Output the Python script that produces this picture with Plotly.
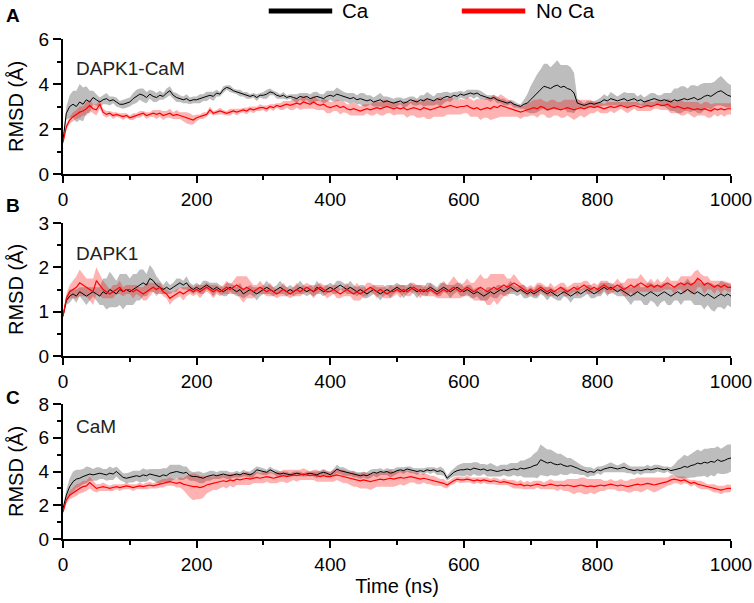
import plotly.graph_objects as go
import numpy as np

STEP = 5  # ns between frames

# ---- panel A: DAPK1-CaM ----
a_ca = [1.5, 2.7, 3.0, 3.1, 3.0, 3.2, 3.1, 3.3, 3.2, 3.4, 3.3, 3.2, 3.3, 3.35, 3.25, 3.3, 3.2, 3.1, 3.1, 3.15,
        3.2, 3.35, 3.45, 3.55, 3.5, 3.4, 3.55, 3.45, 3.4, 3.5, 3.45, 3.6, 3.7, 3.5, 3.4, 3.35, 3.3, 3.35, 3.25, 3.3,
        3.3, 3.35, 3.4, 3.45, 3.5, 3.45, 3.6, 3.55, 3.75, 3.85, 3.8, 3.7, 3.65, 3.6, 3.55, 3.5, 3.45, 3.5, 3.4, 3.5,
        3.5, 3.55, 3.65, 3.6, 3.5, 3.45, 3.5, 3.4, 3.45, 3.4, 3.35, 3.45, 3.4, 3.45, 3.35, 3.4, 3.45, 3.4, 3.35, 3.45,
        3.5, 3.45, 3.55, 3.5, 3.45, 3.4, 3.35, 3.4, 3.3, 3.35, 3.3, 3.25, 3.3, 3.2, 3.25, 3.3, 3.2, 3.25, 3.2, 3.15,
        3.2, 3.25, 3.15, 3.2, 3.3, 3.25, 3.2, 3.3, 3.25, 3.35, 3.3, 3.25, 3.35, 3.3, 3.4, 3.45, 3.4, 3.5, 3.45, 3.55,
        3.5, 3.55, 3.6, 3.55, 3.6, 3.5, 3.45, 3.4, 3.35, 3.4, 3.3, 3.25, 3.2, 3.15, 3.2, 3.1, 3.05, 3.0, 3.1, 3.15,
        3.3, 3.45, 3.6, 3.75, 3.9, 3.85, 3.8, 3.9, 3.95, 3.85, 3.9, 3.8, 3.75, 3.6, 3.15, 3.1, 3.05, 3.1, 3.15, 3.1,
        3.15, 3.2, 3.3, 3.25, 3.35, 3.3, 3.25, 3.3, 3.35, 3.25, 3.3, 3.35, 3.25, 3.3, 3.2, 3.25, 3.3, 3.35, 3.3, 3.25,
        3.3, 3.25, 3.2, 3.3, 3.25, 3.3, 3.35, 3.3, 3.35, 3.4, 3.3, 3.35, 3.45, 3.5, 3.45, 3.55, 3.65, 3.7, 3.6, 3.5,
        3.45]
a_ca_sd = [0.1, 0.3, 0.5, 0.6, 0.7, 0.8, 0.75, 0.6, 0.5, 0.3, 0.25, 0.2, 0.2, 0.25, 0.2, 0.15, 0.2, 0.15, 0.2, 0.2,
           0.2, 0.25, 0.3, 0.25, 0.3, 0.25, 0.2, 0.25, 0.2, 0.2, 0.15, 0.2, 0.2, 0.15, 0.2, 0.15, 0.15, 0.2, 0.15, 0.15,
           0.15, 0.2, 0.15, 0.2, 0.15, 0.2, 0.15, 0.1, 0.15, 0.1, 0.15, 0.1, 0.1, 0.15, 0.1, 0.15, 0.1, 0.1, 0.15, 0.1,
           0.15, 0.2, 0.15, 0.1, 0.15, 0.1, 0.15, 0.1, 0.1, 0.15, 0.2, 0.15, 0.2, 0.15, 0.2, 0.25, 0.2, 0.15, 0.2, 0.25,
           0.2, 0.25, 0.3, 0.25, 0.2, 0.2, 0.25, 0.2, 0.2, 0.25, 0.3, 0.25, 0.2, 0.2, 0.25, 0.3, 0.25, 0.2, 0.2, 0.2,
           0.2, 0.15, 0.2, 0.2, 0.15, 0.2, 0.15, 0.2, 0.25, 0.3, 0.25, 0.2, 0.25, 0.3, 0.25, 0.2, 0.2, 0.15, 0.2, 0.15,
           0.15, 0.2, 0.15, 0.2, 0.15, 0.2, 0.15, 0.1, 0.15, 0.1, 0.15, 0.1, 0.15, 0.1, 0.1, 0.15, 0.1, 0.1, 0.2, 0.4,
           0.6, 0.75, 0.85, 0.9, 1.0, 1.05, 0.95, 1.0, 1.1, 1.0, 0.95, 1.05, 1.0, 0.9, 0.2, 0.15, 0.1, 0.15, 0.1, 0.15,
           0.15, 0.2, 0.25, 0.2, 0.3, 0.25, 0.2, 0.25, 0.3, 0.35, 0.3, 0.25, 0.2, 0.25, 0.2, 0.25, 0.3, 0.25, 0.2, 0.25,
           0.3, 0.35, 0.4, 0.5, 0.55, 0.6, 0.55, 0.5, 0.6, 0.55, 0.6, 0.65, 0.6, 0.55, 0.6, 0.55, 0.6, 0.65, 0.6, 0.55,
           0.5]
a_noca = [1.4, 2.1, 2.4, 2.55, 2.65, 2.75, 2.8, 2.9, 3.05, 2.9, 2.85, 3.1, 2.75, 2.65, 2.7, 2.6, 2.65, 2.6, 2.55, 2.6,
          2.5, 2.55, 2.6, 2.65, 2.7, 2.6, 2.65, 2.7, 2.65, 2.7, 2.6, 2.65, 2.7, 2.6, 2.65, 2.6, 2.55, 2.5, 2.45, 2.4,
          2.5, 2.55, 2.6, 2.65, 2.85, 2.7, 2.75, 2.8, 2.75, 2.7, 2.75, 2.8, 2.75, 2.8, 2.85, 2.8, 2.9, 2.85, 2.9, 2.95,
          2.95, 2.9, 3.0, 2.95, 3.05, 3.0, 3.05, 3.1, 3.05, 3.1, 3.15, 3.1, 3.2, 3.15, 3.1, 3.2, 3.1, 3.05, 3.1, 3.0,
          2.95, 3.0, 3.05, 2.95, 3.0, 2.9, 2.85, 2.9, 2.85, 2.8, 2.85, 2.9, 2.85, 2.9, 2.95, 2.9, 2.95, 3.0, 2.95, 2.9,
          2.95, 2.9, 2.95, 2.85, 2.9, 2.95, 2.9, 2.85, 2.95, 2.9, 2.85, 2.9, 2.95, 3.0, 2.95, 3.0, 3.05, 3.0, 2.95, 3.0,
          3.0, 3.05, 2.95, 2.9, 2.95, 2.85, 2.9, 2.95, 2.9, 3.0, 2.95, 3.05, 3.0, 2.95, 2.9, 2.85, 2.8, 2.75, 2.8, 2.85,
          2.9, 2.95, 2.9, 3.0, 2.95, 2.85, 2.9, 2.95, 2.9, 2.85, 2.9, 2.95, 2.9, 2.85, 2.9, 2.95, 2.9, 2.95, 3.0, 2.95,
          3.0, 2.95, 2.9, 2.95, 3.0, 2.95, 3.0, 3.05, 3.0, 2.95, 3.0, 3.05, 3.0, 2.95, 3.0, 3.05, 3.0, 3.05, 3.1, 3.05,
          3.05, 3.1, 3.0, 2.95, 3.0, 2.95, 2.9, 2.95, 2.9, 2.85, 2.9, 2.85, 2.9, 2.85, 2.8, 2.9, 2.85, 2.9, 2.85, 2.9,
          2.9]
a_noca_sd = [0.1, 0.15, 0.15, 0.2, 0.2, 0.25, 0.2, 0.3, 0.25, 0.2, 0.25, 0.2, 0.15, 0.15, 0.1, 0.15, 0.1, 0.1, 0.15, 0.1,
             0.1, 0.15, 0.1, 0.15, 0.1, 0.15, 0.1, 0.15, 0.2, 0.15, 0.2, 0.15, 0.2, 0.15, 0.2, 0.15, 0.2, 0.25, 0.25, 0.2,
             0.15, 0.1, 0.15, 0.1, 0.15, 0.1, 0.1, 0.15, 0.1, 0.1, 0.15, 0.1, 0.15, 0.1, 0.1, 0.15, 0.1, 0.15, 0.1, 0.15,
             0.1, 0.15, 0.1, 0.15, 0.1, 0.15, 0.2, 0.15, 0.2, 0.25, 0.2, 0.25, 0.3, 0.25, 0.2, 0.3, 0.25, 0.2, 0.25, 0.3,
             0.25, 0.2, 0.25, 0.3, 0.25, 0.2, 0.25, 0.3, 0.25, 0.2, 0.25, 0.2, 0.25, 0.3, 0.25, 0.3, 0.35, 0.3, 0.25, 0.3,
             0.3, 0.25, 0.3, 0.35, 0.3, 0.35, 0.4, 0.35, 0.4, 0.45, 0.4, 0.35, 0.4, 0.45, 0.4, 0.35, 0.4, 0.35, 0.3, 0.35,
             0.3, 0.35, 0.4, 0.35, 0.4, 0.45, 0.4, 0.45, 0.5, 0.55, 0.45, 0.5, 0.45, 0.4, 0.35, 0.3, 0.25, 0.3, 0.25, 0.3,
             0.3, 0.35, 0.4, 0.35, 0.3, 0.35, 0.4, 0.35, 0.3, 0.35, 0.4, 0.35, 0.4, 0.45, 0.4, 0.35, 0.4, 0.35, 0.3, 0.25,
             0.2, 0.25, 0.2, 0.25, 0.2, 0.25, 0.2, 0.15, 0.2, 0.25, 0.2, 0.15, 0.2, 0.15, 0.2, 0.25, 0.2, 0.15, 0.2, 0.2,
             0.2, 0.25, 0.3, 0.25, 0.3, 0.35, 0.3, 0.25, 0.3, 0.35, 0.3, 0.25, 0.3, 0.35, 0.3, 0.25, 0.3, 0.25, 0.3, 0.25,
             0.25]

# ---- panel B: DAPK1 ----
b_ca = [0.9, 1.25, 1.35, 1.4, 1.35, 1.45, 1.4, 1.35, 1.4, 1.45, 1.4, 1.35, 1.45, 1.4, 1.5, 1.45, 1.4, 1.5, 1.45, 1.5,
        1.45, 1.5, 1.55, 1.6, 1.65, 1.6, 1.75, 1.7, 1.6, 1.55, 1.5, 1.55, 1.5, 1.55, 1.6, 1.65, 1.6, 1.65, 1.55, 1.5,
        1.55, 1.5, 1.55, 1.6, 1.55, 1.5, 1.55, 1.5, 1.45, 1.5, 1.55, 1.5, 1.45, 1.5, 1.4, 1.45, 1.5, 1.45, 1.4, 1.45,
        1.5, 1.55, 1.5, 1.45, 1.5, 1.55, 1.5, 1.45, 1.5, 1.45, 1.5, 1.55, 1.5, 1.45, 1.5, 1.45, 1.55, 1.5, 1.45, 1.5,
        1.55, 1.5, 1.55, 1.6, 1.55, 1.5, 1.55, 1.5, 1.45, 1.5, 1.45, 1.4, 1.45, 1.5, 1.45, 1.4, 1.45, 1.5, 1.45, 1.5,
        1.55, 1.5, 1.45, 1.5, 1.55, 1.5, 1.45, 1.5, 1.45, 1.5, 1.55, 1.5, 1.45, 1.5, 1.55, 1.5, 1.45, 1.5, 1.55, 1.5,
        1.45, 1.5, 1.45, 1.4, 1.45, 1.4, 1.35, 1.4, 1.45, 1.4, 1.45, 1.5, 1.45, 1.5, 1.55, 1.5, 1.45, 1.5, 1.45, 1.4,
        1.45, 1.4, 1.45, 1.5, 1.45, 1.4, 1.45, 1.4, 1.35, 1.4, 1.45, 1.4, 1.35, 1.4, 1.45, 1.4, 1.45, 1.5, 1.45, 1.4,
        1.45, 1.5, 1.55, 1.5, 1.55, 1.5, 1.45, 1.5, 1.45, 1.4, 1.35, 1.4, 1.45, 1.4, 1.35, 1.4, 1.45, 1.4, 1.35, 1.4,
        1.45, 1.4, 1.35, 1.4, 1.45, 1.4, 1.45, 1.5, 1.45, 1.4, 1.45, 1.4, 1.35, 1.4, 1.35, 1.3, 1.35, 1.4, 1.35, 1.4,
        1.35]
b_ca_sd = [0.05, 0.1, 0.15, 0.1, 0.15, 0.1, 0.15, 0.2, 0.15, 0.1, 0.15, 0.2, 0.3, 0.35, 0.4, 0.35, 0.3, 0.35, 0.4, 0.35,
           0.3, 0.35, 0.3, 0.35, 0.3, 0.25, 0.3, 0.25, 0.2, 0.15, 0.1, 0.15, 0.1, 0.1, 0.15, 0.1, 0.1, 0.15, 0.1, 0.1,
           0.1, 0.1, 0.15, 0.1, 0.1, 0.15, 0.1, 0.1, 0.1, 0.15, 0.1, 0.1, 0.1, 0.15, 0.1, 0.1, 0.1, 0.1, 0.15, 0.1,
           0.1, 0.15, 0.1, 0.1, 0.1, 0.15, 0.1, 0.1, 0.1, 0.1, 0.1, 0.15, 0.1, 0.1, 0.1, 0.1, 0.15, 0.1, 0.1, 0.1,
           0.1, 0.1, 0.15, 0.1, 0.1, 0.1, 0.15, 0.1, 0.1, 0.1, 0.15, 0.1, 0.1, 0.1, 0.1, 0.15, 0.1, 0.1, 0.15, 0.1,
           0.1, 0.1, 0.15, 0.1, 0.1, 0.1, 0.15, 0.1, 0.1, 0.15, 0.1, 0.1, 0.1, 0.15, 0.1, 0.1, 0.15, 0.1, 0.1, 0.15,
           0.1, 0.1, 0.15, 0.1, 0.1, 0.15, 0.1, 0.15, 0.1, 0.1, 0.15, 0.1, 0.1, 0.1, 0.15, 0.1, 0.1, 0.1, 0.15, 0.1,
           0.1, 0.1, 0.15, 0.1, 0.1, 0.15, 0.1, 0.1, 0.1, 0.15, 0.1, 0.1, 0.15, 0.1, 0.15, 0.1, 0.1, 0.1, 0.15, 0.1,
           0.1, 0.15, 0.1, 0.15, 0.1, 0.1, 0.1, 0.15, 0.1, 0.15, 0.2, 0.15, 0.2, 0.15, 0.2, 0.25, 0.2, 0.2, 0.25, 0.2,
           0.2, 0.25, 0.2, 0.15, 0.2, 0.25, 0.2, 0.25, 0.2, 0.25, 0.3, 0.25, 0.3, 0.25, 0.3, 0.3, 0.25, 0.3, 0.3, 0.25,
           0.25]
b_noca = [0.9, 1.3, 1.45, 1.5, 1.55, 1.65, 1.6, 1.55, 1.5, 1.45, 1.7, 1.6, 1.5, 1.45, 1.4, 1.45, 1.5, 1.55, 1.45, 1.5,
          1.5, 1.45, 1.5, 1.45, 1.4, 1.45, 1.5, 1.55, 1.5, 1.55, 1.45, 1.4, 1.3, 1.35, 1.4, 1.45, 1.4, 1.45, 1.5, 1.45,
          1.5, 1.45, 1.5, 1.55, 1.5, 1.45, 1.5, 1.45, 1.5, 1.55, 1.5, 1.55, 1.6, 1.55, 1.5, 1.55, 1.5, 1.45, 1.5, 1.55,
          1.5, 1.45, 1.5, 1.45, 1.4, 1.45, 1.5, 1.45, 1.4, 1.45, 1.5, 1.45, 1.5, 1.55, 1.5, 1.45, 1.5, 1.55, 1.5, 1.45,
          1.45, 1.5, 1.45, 1.4, 1.45, 1.5, 1.45, 1.4, 1.45, 1.4, 1.45, 1.5, 1.55, 1.5, 1.45, 1.5, 1.45, 1.4, 1.45, 1.45,
          1.5, 1.45, 1.5, 1.45, 1.5, 1.55, 1.5, 1.45, 1.5, 1.45, 1.5, 1.45, 1.4, 1.45, 1.5, 1.45, 1.5, 1.55, 1.5, 1.45,
          1.5, 1.55, 1.5, 1.45, 1.5, 1.55, 1.5, 1.45, 1.5, 1.55, 1.5, 1.55, 1.6, 1.55, 1.6, 1.65, 1.6, 1.55, 1.5, 1.45,
          1.5, 1.45, 1.5, 1.55, 1.5, 1.45, 1.5, 1.45, 1.5, 1.55, 1.5, 1.45, 1.5, 1.55, 1.5, 1.55, 1.6, 1.55, 1.5, 1.55,
          1.5, 1.55, 1.6, 1.55, 1.5, 1.55, 1.6, 1.55, 1.5, 1.55, 1.6, 1.55, 1.6, 1.65, 1.6, 1.55, 1.6, 1.55, 1.6, 1.55,
          1.6, 1.65, 1.6, 1.55, 1.6, 1.65, 1.6, 1.65, 1.6, 1.65, 1.75, 1.7, 1.6, 1.65, 1.6, 1.55, 1.6, 1.55, 1.6, 1.55,
          1.55]
b_noca_sd = [0.05, 0.1, 0.15, 0.2, 0.25, 0.3, 0.25, 0.2, 0.25, 0.3, 0.3, 0.25, 0.2, 0.15, 0.1, 0.15, 0.1, 0.15, 0.1, 0.1,
             0.1, 0.15, 0.1, 0.1, 0.15, 0.2, 0.15, 0.1, 0.15, 0.1, 0.1, 0.1, 0.15, 0.1, 0.1, 0.1, 0.15, 0.1, 0.1, 0.1,
             0.1, 0.15, 0.1, 0.1, 0.1, 0.15, 0.1, 0.1, 0.1, 0.15, 0.1, 0.15, 0.2, 0.25, 0.3, 0.25, 0.2, 0.15, 0.1, 0.15,
             0.1, 0.1, 0.15, 0.1, 0.1, 0.1, 0.15, 0.1, 0.1, 0.1, 0.15, 0.1, 0.1, 0.1, 0.1, 0.15, 0.1, 0.1, 0.1, 0.15,
             0.1, 0.1, 0.15, 0.1, 0.1, 0.15, 0.1, 0.15, 0.2, 0.15, 0.1, 0.15, 0.1, 0.1, 0.15, 0.1, 0.15, 0.1, 0.15, 0.1,
             0.1, 0.15, 0.1, 0.1, 0.15, 0.1, 0.1, 0.15, 0.1, 0.1, 0.15, 0.1, 0.1, 0.15, 0.2, 0.15, 0.2, 0.25, 0.2, 0.15,
             0.15, 0.2, 0.15, 0.2, 0.25, 0.3, 0.25, 0.3, 0.35, 0.3, 0.35, 0.3, 0.25, 0.2, 0.15, 0.2, 0.15, 0.1, 0.1, 0.1,
             0.1, 0.1, 0.15, 0.1, 0.1, 0.1, 0.15, 0.1, 0.1, 0.1, 0.15, 0.1, 0.1, 0.1, 0.15, 0.1, 0.1, 0.15, 0.1, 0.1,
             0.1, 0.15, 0.1, 0.15, 0.1, 0.1, 0.15, 0.1, 0.15, 0.2, 0.15, 0.2, 0.15, 0.2, 0.15, 0.1, 0.15, 0.1, 0.15, 0.1,
             0.1, 0.15, 0.1, 0.15, 0.1, 0.15, 0.2, 0.15, 0.2, 0.25, 0.2, 0.15, 0.2, 0.15, 0.1, 0.15, 0.1, 0.15, 0.1, 0.1,
             0.1]

# ---- panel C: CaM ----
c_ca = [1.8, 2.6, 3.1, 3.4, 3.55, 3.6, 3.7, 3.8, 3.85, 3.8, 3.85, 3.9, 3.85, 3.8, 3.9, 3.85, 4.0, 3.8, 3.65, 3.6,
        3.65, 3.7, 3.75, 3.7, 3.8, 3.75, 3.85, 3.8, 3.75, 3.7, 3.8, 3.75, 3.9, 3.95, 4.0, 3.95, 3.9, 3.95, 3.75, 3.7,
        3.7, 3.65, 3.6, 3.7, 3.75, 3.8, 3.75, 3.8, 3.85, 3.8, 3.75, 3.8, 3.85, 3.8, 3.9, 3.85, 3.8, 3.9, 4.1, 4.05,
        4.0, 3.95, 4.1, 4.0, 3.9, 3.85, 3.9, 3.85, 3.8, 3.85, 3.9, 3.85, 3.8, 3.85, 3.9, 3.85, 3.8, 3.9, 3.95, 3.9,
        3.8, 3.95, 4.15, 4.05, 4.0, 3.95, 3.9, 3.85, 3.8, 3.75, 3.8, 3.75, 3.85, 3.95, 3.9, 4.0, 3.95, 4.0, 3.9, 3.95,
        4.05, 4.1, 4.05, 4.15, 4.1, 4.05, 4.0, 4.05, 4.0, 4.1, 4.05, 4.1, 4.0, 4.05, 3.95, 3.6, 3.8, 3.95, 4.05, 4.1,
        4.1, 4.15, 4.1, 4.2, 4.15, 4.1, 4.15, 4.05, 4.1, 4.05, 4.0, 4.05, 4.1, 4.05, 4.1, 4.15, 4.1, 4.2, 4.15, 4.2,
        4.25, 4.35, 4.4, 4.7, 4.6, 4.5, 4.55, 4.45, 4.4, 4.45, 4.35, 4.3, 4.35, 4.25, 4.2, 4.1, 4.05, 3.95, 4.0, 3.95,
        4.1, 4.05, 4.15, 4.2, 4.25, 4.2, 4.15, 4.2, 4.25, 4.15, 4.1, 4.05, 4.1, 4.05, 4.1, 4.15, 4.1, 4.15, 4.2, 4.15,
        4.1, 4.15, 4.05, 4.1, 4.15, 4.2, 4.3, 4.25, 4.35, 4.4, 4.5, 4.45, 4.55, 4.5, 4.6, 4.55, 4.7, 4.6, 4.65, 4.75,
        4.8]
c_ca_sd = [0.1, 0.3, 0.5, 0.6, 0.55, 0.5, 0.45, 0.5, 0.4, 0.35, 0.4, 0.35, 0.3, 0.35, 0.4, 0.35, 0.3, 0.3, 0.25, 0.3,
           0.3, 0.35, 0.3, 0.35, 0.4, 0.35, 0.3, 0.35, 0.4, 0.45, 0.4, 0.45, 0.5, 0.45, 0.4, 0.45, 0.4, 0.35, 0.3, 0.25,
           0.3, 0.35, 0.3, 0.25, 0.3, 0.25, 0.2, 0.25, 0.2, 0.25, 0.2, 0.15, 0.2, 0.15, 0.2, 0.15, 0.2, 0.25, 0.2, 0.2,
           0.2, 0.15, 0.2, 0.15, 0.2, 0.15, 0.1, 0.15, 0.1, 0.15, 0.1, 0.15, 0.1, 0.15, 0.1, 0.15, 0.2, 0.15, 0.2, 0.15,
           0.15, 0.2, 0.25, 0.2, 0.25, 0.2, 0.15, 0.2, 0.15, 0.2, 0.15, 0.2, 0.25, 0.2, 0.25, 0.2, 0.15, 0.2, 0.25, 0.2,
           0.2, 0.15, 0.2, 0.15, 0.2, 0.15, 0.2, 0.15, 0.2, 0.15, 0.2, 0.15, 0.2, 0.25, 0.2, 0.15, 0.2, 0.25, 0.3, 0.35,
           0.4, 0.35, 0.4, 0.35, 0.4, 0.35, 0.3, 0.35, 0.4, 0.35, 0.3, 0.35, 0.3, 0.35, 0.4, 0.35, 0.4, 0.45, 0.5, 0.55,
           0.6, 0.7, 0.8, 0.9, 0.85, 0.8, 0.75, 0.7, 0.65, 0.6, 0.55, 0.5, 0.45, 0.4, 0.35, 0.3, 0.25, 0.3, 0.25, 0.2,
           0.2, 0.25, 0.2, 0.25, 0.3, 0.25, 0.2, 0.25, 0.3, 0.25, 0.2, 0.25, 0.2, 0.25, 0.2, 0.25, 0.2, 0.25, 0.2, 0.2,
           0.2, 0.15, 0.2, 0.3, 0.5, 0.6, 0.7, 0.65, 0.7, 0.75, 0.8, 0.75, 0.8, 0.85, 0.8, 0.85, 0.8, 0.75, 0.8, 0.85,
           0.8]
c_noca = [1.6, 2.3, 2.6, 2.75, 2.9, 3.0, 3.1, 3.15, 3.35, 3.15, 3.0, 3.05, 3.1, 3.05, 3.0, 3.05, 3.1, 3.05, 3.1, 3.15,
          3.1, 3.05, 3.1, 3.15, 3.1, 3.15, 3.2, 3.15, 3.2, 3.25, 3.3, 3.35, 3.4, 3.35, 3.3, 3.35, 3.25, 3.2, 3.15, 3.1,
          3.1, 3.05, 3.1, 3.2, 3.25, 3.3, 3.35, 3.4, 3.45, 3.4, 3.5, 3.45, 3.55, 3.5, 3.55, 3.6, 3.55, 3.6, 3.65, 3.6,
          3.65, 3.7, 3.65, 3.6, 3.65, 3.7, 3.75, 3.7, 3.75, 3.8, 3.75, 3.8, 3.85, 3.8, 3.75, 3.8, 3.75, 3.7, 3.75, 3.7,
          3.7, 3.75, 3.8, 3.75, 3.7, 3.65, 3.6, 3.55, 3.5, 3.45, 3.5, 3.45, 3.4, 3.45, 3.5, 3.55, 3.5, 3.55, 3.6, 3.55,
          3.6, 3.65, 3.6, 3.65, 3.7, 3.65, 3.6, 3.55, 3.6, 3.55, 3.5, 3.45, 3.4, 3.35, 3.3, 3.2, 3.35, 3.45, 3.55, 3.5,
          3.5, 3.55, 3.5, 3.45, 3.5, 3.45, 3.5, 3.45, 3.4, 3.45, 3.4, 3.35, 3.4, 3.35, 3.3, 3.25, 3.2, 3.25, 3.15, 3.2,
          3.15, 3.2, 3.25, 3.2, 3.15, 3.2, 3.25, 3.2, 3.15, 3.2, 3.15, 3.2, 3.15, 3.1, 3.15, 3.2, 3.15, 3.1, 3.15, 3.1,
          3.15, 3.2, 3.15, 3.2, 3.25, 3.2, 3.15, 3.2, 3.15, 3.1, 3.15, 3.2, 3.25, 3.2, 3.25, 3.3, 3.25, 3.2, 3.25, 3.3,
          3.35, 3.4, 3.5, 3.55, 3.5, 3.45, 3.5, 3.4, 3.3, 3.35, 3.25, 3.2, 3.15, 3.1, 3.05, 3.0, 2.95, 2.9, 2.95, 3.0,
          3.0]
c_noca_sd = [0.1, 0.2, 0.25, 0.3, 0.35, 0.3, 0.35, 0.3, 0.35, 0.3, 0.25, 0.2, 0.25, 0.2, 0.15, 0.2, 0.15, 0.2, 0.15, 0.2,
             0.15, 0.2, 0.15, 0.2, 0.15, 0.2, 0.2, 0.15, 0.2, 0.2, 0.25, 0.2, 0.25, 0.2, 0.25, 0.3, 0.35, 0.55, 0.7, 0.8,
             0.75, 0.7, 0.65, 0.5, 0.45, 0.4, 0.45, 0.4, 0.35, 0.4, 0.35, 0.4, 0.35, 0.3, 0.35, 0.4, 0.35, 0.3, 0.35, 0.3,
             0.35, 0.3, 0.35, 0.3, 0.35, 0.3, 0.35, 0.4, 0.35, 0.3, 0.35, 0.3, 0.35, 0.3, 0.25, 0.3, 0.35, 0.3, 0.35, 0.3,
             0.3, 0.35, 0.3, 0.35, 0.4, 0.35, 0.4, 0.45, 0.4, 0.45, 0.5, 0.45, 0.5, 0.45, 0.4, 0.45, 0.4, 0.45, 0.5, 0.45,
             0.45, 0.4, 0.45, 0.4, 0.35, 0.3, 0.35, 0.3, 0.25, 0.3, 0.25, 0.3, 0.25, 0.2, 0.25, 0.2, 0.15, 0.2, 0.15, 0.2,
             0.15, 0.2, 0.15, 0.2, 0.15, 0.2, 0.15, 0.2, 0.15, 0.2, 0.2, 0.15, 0.2, 0.15, 0.2, 0.25, 0.2, 0.25, 0.2, 0.25,
             0.2, 0.25, 0.2, 0.25, 0.2, 0.25, 0.3, 0.25, 0.3, 0.25, 0.3, 0.35, 0.4, 0.45, 0.4, 0.45, 0.5, 0.45, 0.4, 0.45,
             0.4, 0.35, 0.3, 0.25, 0.3, 0.25, 0.3, 0.35, 0.3, 0.35, 0.4, 0.35, 0.4, 0.45, 0.4, 0.35, 0.4, 0.45, 0.4, 0.35,
             0.3, 0.25, 0.3, 0.25, 0.2, 0.25, 0.2, 0.15, 0.2, 0.15, 0.2, 0.25, 0.2, 0.15, 0.2, 0.25, 0.2, 0.25, 0.2, 0.25,
             0.2]

panels = [
    ("DAPK1-CaM", "A", a_ca, a_ca_sd, a_noca, a_noca_sd, 6, 2, 1),
    ("DAPK1", "B", b_ca, b_ca_sd, b_noca, b_noca_sd, 3, 1, 0.5),
    ("CaM", "C", c_ca, c_ca_sd, c_noca, c_noca_sd, 8, 2, 1),
]
domains = [[0.73, 1.0], [0.366, 0.632], [0.0, 0.27]]

FONT = "Arial, Liberation Sans, sans-serif"
GRAY_BAND = "rgba(128,128,128,0.52)"
RED_BAND = "rgba(255,0,0,0.3)"

fig = go.Figure()
layout = {}
annotations = []


def band(fig, mean, sd, color, xa, ya):
    n = min(len(mean), len(sd))
    m = np.array(mean[:n])
    s = np.array(sd[:n])
    t = np.arange(n) * STEP
    fig.add_trace(go.Scatter(x=t, y=m - s, mode="lines", line=dict(width=0),
                             xaxis=xa, yaxis=ya, showlegend=False, hoverinfo="skip"))
    fig.add_trace(go.Scatter(x=t, y=m + s, mode="lines", line=dict(width=0),
                             fill="tonexty", fillcolor=color,
                             xaxis=xa, yaxis=ya, showlegend=False, hoverinfo="skip"))


for i, (name, letter, ca, ca_sd, noca, noca_sd, ymax, ydt, yminor) in enumerate(panels):
    k = i + 1
    xa = "x" if k == 1 else f"x{k}"
    ya = "y" if k == 1 else f"y{k}"

    band(fig, ca, ca_sd, GRAY_BAND, xa, ya)
    band(fig, noca, noca_sd, RED_BAND, xa, ya)
    fig.add_trace(go.Scatter(x=np.arange(len(ca)) * STEP, y=ca, mode="lines",
                             line=dict(color="black", width=1), xaxis=xa, yaxis=ya,
                             showlegend=False, name="Ca"))
    fig.add_trace(go.Scatter(x=np.arange(len(noca)) * STEP, y=noca, mode="lines",
                             line=dict(color="#ff0000", width=1.2), xaxis=xa, yaxis=ya,
                             showlegend=False, name="No Ca"))

    common = dict(showgrid=False, zeroline=False, linecolor="black", linewidth=2,
                  tickcolor="black", tickwidth=1.5, automargin=False,
                  tickfont=dict(family=FONT, size=19, color="black"))
    layout[f"xaxis{k}" if k > 1 else "xaxis"] = dict(
        common, domain=[0, 1], anchor=ya, range=[0, 1000], dtick=200, tick0=0,
        ticks="outside", ticklen=7,
        minor=dict(dtick=100, ticks="outside", ticklen=4, tickcolor="black", tickwidth=1.5),
        title=dict(text="Time (ns)" if k == 3 else "", font=dict(family=FONT, size=20, color="black"),
                   standoff=5))
    layout[f"yaxis{k}" if k > 1 else "yaxis"] = dict(
        common, domain=domains[i], anchor=xa, range=[0, ymax], dtick=ydt, tick0=0,
        ticks="outside", ticklen=8,
        minor=dict(dtick=yminor, ticks="outside", ticklen=4, tickcolor="black", tickwidth=1.5),
        title=dict(text="RMSD (Å)", font=dict(family=FONT, size=20, color="black"), standoff=10))
    # top and right frame with inward ticks
    layout[f"xaxis{k + 3}"] = dict(
        overlaying=xa, side="top", anchor=ya, range=[0, 1000], dtick=200, tick0=0,
        showgrid=False, zeroline=False, showticklabels=False, linecolor="black", linewidth=2,
        ticks="inside", ticklen=5, tickcolor="black", tickwidth=1.5, automargin=False,
        minor=dict(dtick=100, ticks="inside", ticklen=3, tickcolor="black", tickwidth=1.5))
    layout[f"yaxis{k + 3}"] = dict(
        overlaying=ya, side="right", anchor=xa, range=[0, ymax], dtick=ydt, tick0=0,
        showgrid=False, zeroline=False, showticklabels=False, linecolor="black", linewidth=2,
        ticks="inside", ticklen=4, tickcolor="black", tickwidth=1.5, automargin=False,
        minor=dict(dtick=yminor, ticks="inside", ticklen=3, tickcolor="black", tickwidth=1.5))

    annotations.append(dict(text=name, xref=f"{xa} domain", yref=f"{ya} domain",
                            x=0.016, y={1: 0.785, 2: 0.774, 3: 0.837}[k], xanchor="left", yanchor="middle",
                            showarrow=False, font=dict(family=FONT, size=19, color="#222222")))
    annotations.append(dict(text=f"<b>{letter}</b>", xref="paper", yref="paper",
                            x=-0.088, y={1: 1.046, 2: 0.666, 3: 0.284}[k], xanchor="left", yanchor="middle",
                            showarrow=False, font=dict(family=FONT, size=19, color="black")))

# legend drawn at the top
legend_items = [("Ca", "black", 0.308, 0.403, 0.414), ("No Ca", "#ff0000", 0.597, 0.692, 0.705)]
shapes = []
for label, color, x0, x1, xt in legend_items:
    shapes.append(dict(type="line", xref="paper", yref="paper", x0=x0, x1=x1, y0=1.056, y1=1.056,
                       line=dict(color=color, width=5)))
    annotations.append(dict(text=label, xref="paper", yref="paper", x=xt, y=1.056,
                            xanchor="left", yanchor="middle", showarrow=False,
                            font=dict(family=FONT, size=20.5, color="black")))

fig.update_layout(**layout)
fig.update_layout(
    width=754, height=603,
    margin=dict(l=63, r=23, t=39, b=64),
    paper_bgcolor="white", plot_bgcolor="white",
    showlegend=False,
    annotations=annotations, shapes=shapes,
    font=dict(family=FONT, color="black"),
)

# the page has a default 8px body margin; drop it so the figure sits at the corner
fig.write_html("out.html", config={"displayModeBar": False},
               post_script="document.body.style.margin='0px';")
